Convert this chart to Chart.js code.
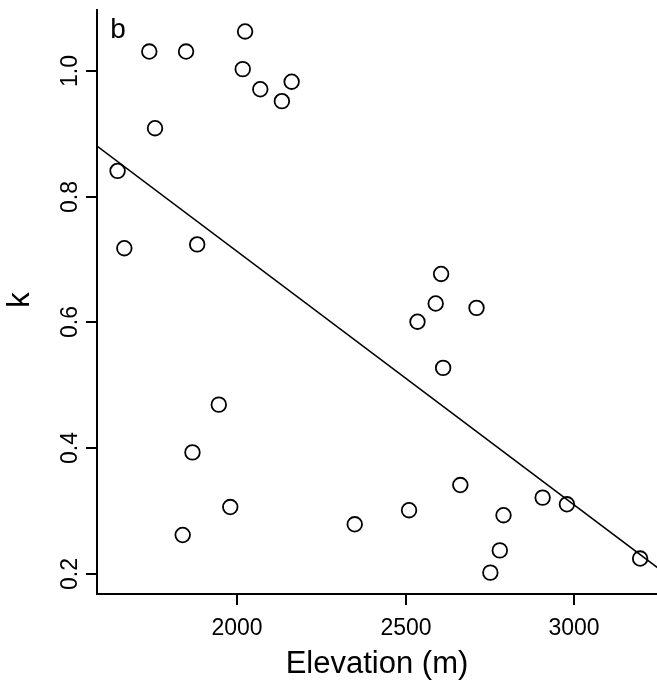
<!DOCTYPE html>
<html>
<head>
<meta charset="utf-8">
<title>k vs elevation</title>
<script src="https://cdn.jsdelivr.net/npm/chart.js@4.4.1/dist/chart.umd.min.js"></script>
<style>
  html, body { margin: 0; padding: 0; overflow: hidden; background: #fff; }
  #kChart { display: block; }
</style>
</head>
<body>
<canvas id="kChart" width="657" height="687"></canvas>
<script>
// site elevations (m) and fitted k
const elevation = [1646, 1666, 1740, 1849, 2024, 2017, 2069, 2162, 2133, 1757,
                   1882, 1946, 1868, 1980, 1839, 2349, 2510, 2605, 2589, 2535,
                   2710, 2611, 2662, 2790, 2906, 2978, 2779, 2751, 3195];
const kValues = [0.841, 0.718, 1.031, 1.031, 1.063, 1.003, 0.971, 0.983, 0.952, 0.909,
                 0.724, 0.469, 0.393, 0.306, 0.2615, 0.2785, 0.301, 0.677, 0.630, 0.601,
                 0.623, 0.5275, 0.341, 0.293, 0.321, 0.3104, 0.237, 0.2016, 0.224];

// end points of the linear fit
const fitX = [1585, 3257];
const fitY = [0.8806, 0.2054];

const xTicks = [2000, 2500, 3000];
const yTicks = [0.2, 0.4, 0.6, 0.8, 1.0];
const xRange = [1585, 3245];
const yRange = [0.1676, 1.0987];

const FONT = '"Liberation Sans", Arial, sans-serif';

// base-graphics style axes: L-shaped frame, outward ticks, rotated y labels
const baseAxes = {
  id: 'baseAxes',
  afterDraw(chart) {
    const { ctx, chartArea: a, scales: { x, y } } = chart;
    ctx.save();
    ctx.strokeStyle = '#000';
    ctx.fillStyle = '#000';
    ctx.lineWidth = 2;
    ctx.beginPath();
    ctx.moveTo(a.left, a.top);
    ctx.lineTo(a.left, a.bottom);
    ctx.lineTo(a.right, a.bottom);
    ctx.stroke();

    ctx.font = '23px ' + FONT;
    ctx.textAlign = 'center';
    ctx.textBaseline = 'middle';
    xTicks.forEach(v => {
      const px = Math.round(x.getPixelForValue(v));
      ctx.beginPath();
      ctx.moveTo(px, a.bottom);
      ctx.lineTo(px, a.bottom + 11);
      ctx.stroke();
      ctx.fillText(String(v), px, 629);
    });
    yTicks.forEach(v => {
      const py = Math.round(y.getPixelForValue(v));
      ctx.beginPath();
      ctx.moveTo(a.left - 11, py);
      ctx.lineTo(a.left, py);
      ctx.stroke();
      ctx.save();
      ctx.translate(71, py);
      ctx.rotate(-Math.PI / 2);
      ctx.fillText(v.toFixed(1), 0, 0);
      ctx.restore();
    });

    ctx.font = '31px ' + FONT;
    ctx.fillText('Elevation (m)', 377, 664);
    ctx.save();
    ctx.translate(20, 300);
    ctx.rotate(-Math.PI / 2);
    ctx.fillText('k', 0, 0);
    ctx.restore();

    ctx.font = '28px ' + FONT;
    ctx.fillText('b', 118, 30);
    ctx.restore();
  }
};

new Chart(document.getElementById('kChart'), {
  type: 'scatter',
  data: {
    datasets: [{
      label: 'k',
      data: elevation.map((e, i) => ({ x: e, y: kValues[i] })),
      pointStyle: 'circle',
      pointRadius: 7.3,
      pointBorderWidth: 1.8,
      pointBorderColor: '#000',
      pointBackgroundColor: 'rgba(0,0,0,0)'
    }, {
      label: 'fit',
      data: fitX.map((e, i) => ({ x: e, y: fitY[i] })),
      showLine: true,
      borderColor: '#000',
      borderWidth: 1.6,
      pointRadius: 0
    }]
  },
  options: {
    responsive: false,
    animation: false,
    events: [],
    layout: { autoPadding: false, padding: { left: 97, top: 9, right: 0, bottom: 93 } },
    plugins: { legend: { display: false }, tooltip: { enabled: false } },
    scales: {
      x: { type: 'linear', display: false, min: xRange[0], max: xRange[1] },
      y: { type: 'linear', display: false, min: yRange[0], max: yRange[1] }
    }
  },
  plugins: [baseAxes]
});
</script>
</body>
</html>
